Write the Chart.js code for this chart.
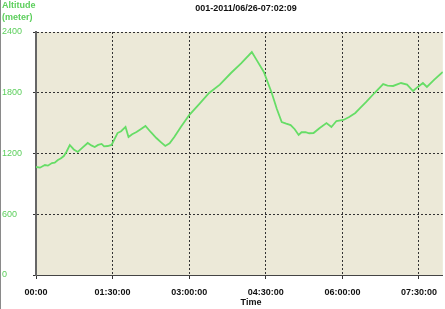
<!DOCTYPE html>
<html>
<head>
<meta charset="utf-8">
<script src="https://cdn.jsdelivr.net/npm/chart.js@4"></script>
<style>
html,body{margin:0;padding:0;background:#fff;}
#wrap{width:445px;height:309px;position:relative;}
</style>
</head>
<body>
<div id="wrap"><canvas id="c" width="445" height="309"></canvas></div>
<script>
const chartTitle = "001-2011/06/26-07:02:09";
const yAxisTitle = ["Altitude", "(meter)"];
const xAxisTitle = "Time";
const xTickLabels = ["00:00", "01:30:00", "03:00:00", "04:30:00", "06:00:00", "07:30:00"];
const xTickStepMinutes = 90;
const xMaxMinutes = 478;
const yTicks = [0, 600, 1200, 1800, 2400];
const timeMinutes = [0, 4.7, 10.5, 14, 18.7, 22, 25.7, 29, 32.7, 36, 39.7, 44.4, 49.1, 54.9, 60.8, 65, 69.0, 73, 77.1, 80, 84.2, 88.8, 95.8, 100, 105.2, 108.7, 113, 118.1, 123, 128.6, 135, 141.4, 147, 151.9, 157, 162.5, 170, 180, 192, 203.4, 216, 229.1, 241, 253.6, 259.5, 267.7, 277, 283, 288.7, 294, 299.2, 304, 308.6, 312, 316.7, 321, 326.1, 333, 341.3, 347.1, 353, 361.2, 368, 375.2, 381, 388, 398, 407.9, 413, 419.6, 428.9, 436, 443, 449, 454.6, 459.3, 468, 478];
const altitudeMeters = [1067, 1060, 1086, 1080, 1106, 1110, 1136, 1150, 1175, 1220, 1284, 1240, 1215, 1260, 1304, 1280, 1264, 1285, 1294, 1270, 1274, 1284, 1402, 1420, 1462, 1363, 1390, 1412, 1440, 1472, 1410, 1353, 1310, 1274, 1300, 1363, 1460, 1580, 1690, 1798, 1880, 1995, 2090, 2202, 2120, 2005, 1798, 1640, 1511, 1495, 1481, 1440, 1383, 1410, 1412, 1400, 1402, 1450, 1501, 1462, 1521, 1531, 1560, 1600, 1650, 1709, 1800, 1886, 1870, 1867, 1896, 1880, 1817, 1860, 1896, 1857, 1930, 2005];

const GREEN_TEXT = '#5ccf5c';
const plotBg = {
  id: 'plotBg',
  beforeDraw(chart) {
    const {ctx, chartArea: a} = chart;
    ctx.save();
    ctx.fillStyle = '#ECE9D8';
    ctx.fillRect(a.left, a.top, a.right - a.left, a.bottom - a.top);
    ctx.restore();
  },
  afterDraw(chart) {
    const {ctx} = chart;
    ctx.save();
    ctx.strokeStyle = '#8a8a8a';
    ctx.lineWidth = 1;
    ctx.beginPath(); ctx.moveTo(0.5, 0); ctx.lineTo(0.5, 309); ctx.stroke();
    ctx.fillStyle = '#111';
    ctx.font = 'bold 9px "Liberation Sans", Arial, sans-serif';
    ctx.textAlign = 'center';
    ctx.textBaseline = 'middle';
    ctx.fillText(chartTitle, 246, 9);
    ctx.fillStyle = GREEN_TEXT;
    ctx.textAlign = 'left';
    ctx.fillText(yAxisTitle[0], 2, 6);
    ctx.fillText(yAxisTitle[1], 2, 18);
    ctx.fillStyle = '#111';
    ctx.textAlign = 'center';
    ctx.fillText(xAxisTitle, 251, 303);
    ctx.restore();
  }
};

const points = timeMinutes.map((t, i) => ({x: t, y: altitudeMeters[i]}));

new Chart(document.getElementById('c'), {
  type: 'line',
  data: {
    datasets: [{
      data: points,
      borderColor: '#66dd66',
      borderWidth: 1.8,
      pointRadius: 0,
      tension: 0,
      fill: false
    }]
  },
  options: {
    responsive: false,
    animation: false,
    layout: {padding: {top: 32, left: 2, right: 0, bottom: 0}},
    plugins: {legend: {display: false}, title: {display: false}, tooltip: {enabled: false}},
    scales: {
      x: {
        type: 'linear',
        min: 0,
        max: xMaxMinutes,
        afterFit(s) { s.height = 34; },
        afterBuildTicks(s) {
          s.ticks = xTickLabels.map((l, i) => ({value: i * xTickStepMinutes}));
        },
        ticks: {
          autoSkip: false,
          maxRotation: 0,
          padding: 8,
          color: '#111',
          font: {family: '"Liberation Sans", Arial, sans-serif', size: 9, weight: 'bold'},
          callback: (v) => xTickLabels[Math.round(v / xTickStepMinutes)]
        },
        grid: {color: '#333', lineWidth: 1, tickLength: 4, drawTicks: true},
        border: {display: true, color: '#444', width: 1, dash: [2, 2]}
      },
      y: {
        min: 0,
        max: 2400,
        afterFit(s) { s.width = 34; },
        afterBuildTicks(s) { s.ticks = yTicks.map(v => ({value: v})); },
        ticks: {
          crossAlign: 'far',
          padding: 2,
          color: GREEN_TEXT,
          font: {family: '"Liberation Sans", Arial, sans-serif', size: 9},
          callback: (v) => String(v)
        },
        grid: {color: '#333', lineWidth: 1, tickLength: 3, drawTicks: true},
        border: {display: true, color: '#666', width: 2, dash: [2, 2]}
      }
    }
  },
  plugins: [plotBg]
});
</script>
</body>
</html>
